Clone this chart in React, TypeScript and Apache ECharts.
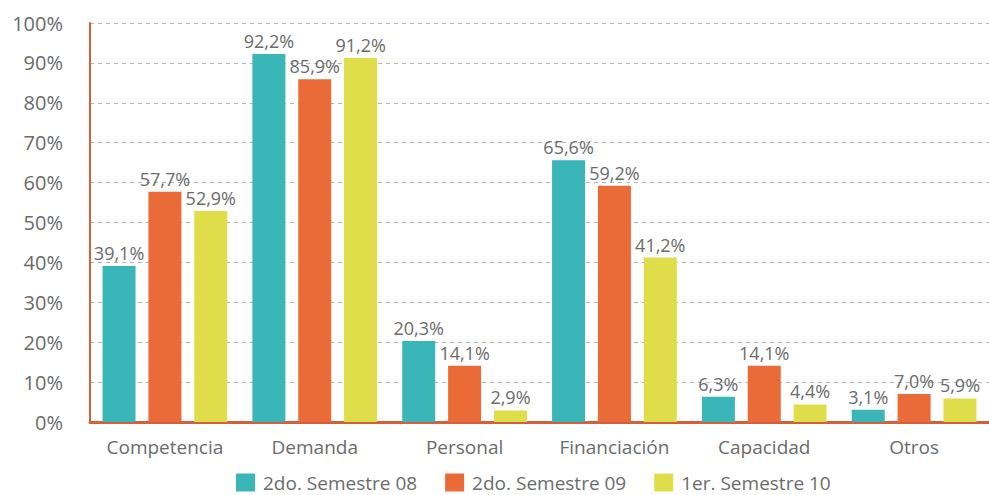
import React, { useEffect, useRef } from "react";
import * as echarts from "echarts";

const categories = ["Competencia", "Demanda", "Personal", "Financiación", "Capacidad", "Otros"];
const seriesNames = ["2do. Semestre 08", "2do. Semestre 09", "1er. Semestre 10"];
const s08 = [39.1, 92.2, 20.3, 65.6, 6.3, 3.1];
const s09 = [57.7, 85.9, 14.1, 59.2, 14.1, 7.0];
const s10 = [52.9, 91.2, 2.9, 41.2, 4.4, 5.9];
const colors = ["#3bb6b8", "#eb6b38", "#dfde4a"];

const FONT = "'Open Sans', 'Noto Sans', sans-serif";
const fmt = (v: number) => v.toFixed(1).replace(".", ",") + "%";

export default function App() {
  const ref = useRef<HTMLDivElement>(null);
  useEffect(() => {
    if (!ref.current) return;
    const chart = echarts.init(ref.current, null, { renderer: "svg" });
    const data = [s08, s09, s10];
    chart.setOption({
      animation: false,
      textStyle: { fontFamily: FONT },
      grid: { left: 90, top: 23, width: 907, height: 399, containLabel: false },
      legend: {
        top: 473,
        left: 236,
        padding: 0,
        icon: "rect",
        itemWidth: 19,
        itemHeight: 18,
        itemGap: 28,
        textStyle: { fontSize: 19, lineHeight: 19, color: "#6b6b6b", fontFamily: FONT, padding: [0, 0, 0, 3] },
        data: seriesNames,
      },
      xAxis: {
        type: "category",
        data: categories,
        axisLine: { lineStyle: { color: "#d2603a", width: 3 } },
        axisTick: { show: false },
        axisLabel: { interval: 0, fontSize: 19, color: "#6b6b6b", margin: 15, fontFamily: FONT },
      },
      yAxis: {
        type: "value",
        min: 0,
        max: 100,
        interval: 10,
        axisLine: { show: true, lineStyle: { color: "#d2603a", width: 2 } },
        axisTick: { show: false },
        axisLabel: { fontSize: 20, color: "#6b6b6b", margin: 27, formatter: "{value}%", fontFamily: FONT },
        splitLine: { lineStyle: { color: "#b5b5b5", type: [4, 4], width: 1 } },
      },
      series: data.map((d, i) => ({
        name: seriesNames[i],
        type: "bar",
        data: d,
        barWidth: 33,
        barGap: "39%",
        itemStyle: { color: colors[i] },
        label: {
          show: true,
          position: "top",
          distance: 4,
          fontSize: 18,
          color: "#6b6b6b",
          fontFamily: FONT,
          formatter: (p: any) => fmt(p.value),
        },
      })),
    });
    return () => chart.dispose();
  }, []);
  return <div ref={ref} style={{ width: 989, height: 495, position: "absolute", left: 0, top: 0 }} />;
}
